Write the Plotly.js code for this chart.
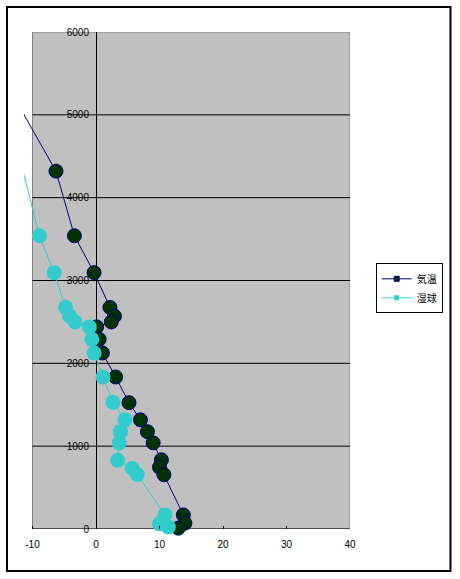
<!DOCTYPE html>
<html><head><meta charset="utf-8">
<script src="https://cdn.plot.ly/plotly-3.0.1.min.js"></script>
<style>html,body{margin:0;padding:0;background:#fff;} #chart{width:460px;height:579px;}</style>
</head><body><div id="chart"></div>
<script>
// ---- data ----
const seriesNames = ['気温', '湿球'];
const airTemp   = [-11.4, -6.3, -3.4, -0.3, 2.2, 2.9, 2.4, 0.1, 0.5, 1.0, 3.1, 5.2, 7.0, 8.1, 9.0, 10.3, 10.0, 10.7, 13.75, 14.0, 12.95];
const airHeight = [5010, 4320, 3540, 3095, 2675, 2570, 2500, 2440, 2290, 2125, 1835, 1525, 1318, 1175, 1040, 835, 745, 655, 170, 70, 10];
const wetTemp   = [-11.5, -8.9, -6.6, -4.8, -4.15, -3.3, -1.05, -0.65, -0.3, 1.1, 2.65, 4.55, 3.85, 3.65, 3.4, 5.7, 6.5, 10.85, 10.0, 11.4];
const wetHeight = [4320, 3540, 3095, 2675, 2570, 2500, 2440, 2290, 2125, 1835, 1530, 1320, 1175, 1040, 830, 730, 658, 170, 62, 25];
const xTickVals = [-10, 0, 10, 20, 30, 40];
const xTickText = ['-10', '0', '10', '20', '30', '40'];
const yTickVals = [0, 1000, 2000, 3000, 4000, 5000, 6000];
const yTickText = ['0', '1000', '2000', '3000', '4000', '5000', '6000'];

// ---- layout geometry ----
const X_MIN = -10, X_MAX = 40, Y_MIN = 0, Y_MAX = 6000;
const W = 460, H = 579;
const M = {l: 24, r: 110, t: 32, b: 50};
const PW = W - M.l - M.r, PH = H - M.t - M.b;
const grayLeftPx = 32.5, grayRightPx = 350;
const pxPerUnit = (grayRightPx - grayLeftPx) / (X_MAX - X_MIN);
const xLeft = X_MIN - (grayLeftPx - M.l) / pxPerUnit;
const xRight = X_MAX + (M.l + PW - grayRightPx) / pxPerUnit;
const yAxisPos = (0 - xLeft) / (xRight - xLeft);

const AIR_LINE = '#000080', AIR_FILL = '#003300', WET = '#33CCCC';
const font = {family: 'Liberation Sans, Arial, sans-serif', size: 10, color: '#000'};

const markerSizes = (xs, s) => xs.map(v => (v < X_MIN || v > X_MAX) ? 0 : s);

const traces = [
  {x: airTemp, y: airHeight, name: seriesNames[0], type: 'scatter', mode: 'lines+markers',
   line: {color: AIR_LINE, width: 1},
   marker: {symbol: 'circle', size: markerSizes(airTemp, 14), color: AIR_FILL, opacity: 1, line: {color: AIR_LINE, width: 1}},
   cliponaxis: false, showlegend: false, hoverinfo: 'skip'},
  {x: wetTemp, y: wetHeight, name: seriesNames[1], type: 'scatter', mode: 'lines+markers',
   line: {color: WET, width: 1},
   marker: {symbol: 'circle', size: markerSizes(wetTemp, 15), color: WET, opacity: 1, line: {width: 0}},
   cliponaxis: false, showlegend: false, hoverinfo: 'skip'},
  // legend entries (Excel-style small square markers)
  {x: [null], y: [null], name: seriesNames[0], type: 'scatter', mode: 'lines+markers',
   line: {color: AIR_LINE, width: 1},
   marker: {symbol: 'square', size: 5, color: AIR_FILL, line: {color: AIR_LINE, width: 1}}},
  {x: [null], y: [null], name: seriesNames[1], type: 'scatter', mode: 'lines+markers',
   line: {color: WET, width: 1},
   marker: {symbol: 'square', size: 5, color: WET, line: {width: 0}}}
];

const shapes = [];
// plot area (gray)
shapes.push({type: 'rect', xref: 'x', yref: 'y', x0: X_MIN, x1: X_MAX, y0: Y_MIN, y1: Y_MAX,
  fillcolor: '#C0C0C0', line: {color: '#808080', width: 1}, layer: 'below'});
// horizontal gridlines / x-axis line
yTickVals.filter(v => v < Y_MAX).forEach(v => {
  shapes.push({type: 'line', xref: 'x', yref: 'y', x0: X_MIN, x1: X_MAX, y0: v, y1: v,
    line: {color: '#000', width: 1}, layer: 'below'});
});
// chart frame
shapes.push({type: 'rect', xref: 'paper', yref: 'paper',
  x0: (7 - M.l) / PW, x1: (450.5 - M.l) / PW, y0: (M.t + PH - 571) / PH, y1: (M.t + PH - 7) / PH,
  line: {color: '#000', width: 2}, fillcolor: 'rgba(0,0,0,0)', layer: 'below'});

const layout = {
  width: W, height: H, margin: M,
  paper_bgcolor: '#fff', plot_bgcolor: 'rgba(0,0,0,0)',
  font: font,
  showlegend: true,
  legend: {x: (375.7 - M.l) / PW, y: (M.t + PH - 263.3) / PH, xanchor: 'left', yanchor: 'top',
    bgcolor: '#fff', bordercolor: '#000', borderwidth: 1,
    font: {family: 'Noto Sans CJK JP, sans-serif', size: 10, color: '#000'}},
  xaxis: {range: [xLeft, xRight], tickmode: 'array', tickvals: xTickVals, ticktext: xTickText,
    showgrid: false, zeroline: true, zerolinecolor: '#000', zerolinewidth: 1,
    showline: false, ticks: 'inside', ticklen: 3, tickcolor: '#000', tickfont: font,
    ticklabelstandoff: 8, fixedrange: true},
  yaxis: {range: [Y_MIN, Y_MAX], anchor: 'free', position: yAxisPos, tickmode: 'array',
    tickvals: yTickVals, ticktext: yTickText, showgrid: false, zeroline: false, showline: false,
    ticks: '', tickfont: font, ticklabelstandoff: 7, fixedrange: true},
  shapes: shapes
};

Plotly.newPlot('chart', traces, layout, {displayModeBar: false, staticPlot: true});
</script>
</body></html>
